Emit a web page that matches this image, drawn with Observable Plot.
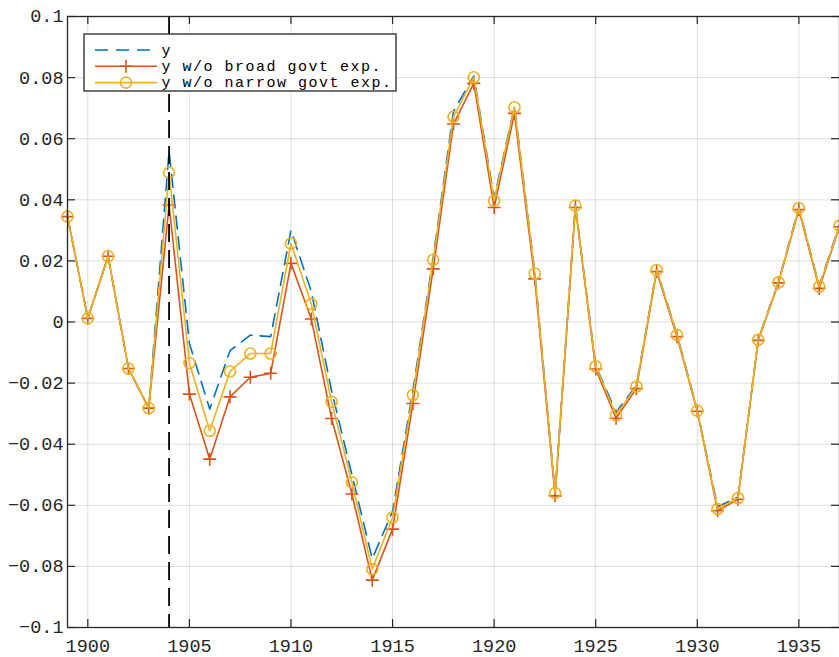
<!DOCTYPE html>
<html>
<head>
<meta charset="utf-8">
<script src="https://cdn.jsdelivr.net/npm/d3@7"></script>
<script src="https://cdn.jsdelivr.net/npm/@observablehq/plot@0.6"></script>
<style>
  html, body { margin: 0; padding: 0; background: #fff; }
  #chart { width: 839px; height: 657px; }
</style>
</head>
<body>
<div id="chart"></div>
<script>
const years = d3.range(1899, 1938);
const yBase = [0.0345, 0.0012, 0.0215, -0.0152, -0.0282, 0.0560, -0.0070, -0.0285, -0.0094, -0.0043,
  -0.0048, 0.0300, 0.0100, -0.0225, -0.0500, -0.0775, -0.0620, -0.0225, 0.0210, 0.0690,
  0.0805, 0.0405, 0.0705, 0.0162, -0.0558, 0.0383, -0.0143, -0.0295, -0.0208, 0.0172,
  -0.0040, -0.0288, -0.0605, -0.0573, -0.0057, 0.0132, 0.0375, 0.0118, 0.0318];
const yBroad = [0.0345, 0.0012, 0.0215, -0.0152, -0.0282, 0.0383, -0.0236, -0.0449, -0.0245, -0.0181,
  -0.0168, 0.0192, 0.0010, -0.0316, -0.0563, -0.0845, -0.0678, -0.0267, 0.0174, 0.0648,
  0.0781, 0.0375, 0.0683, 0.0141, -0.0569, 0.0375, -0.0154, -0.0315, -0.0218, 0.0165,
  -0.0048, -0.0292, -0.0618, -0.0580, -0.0060, 0.0128, 0.0368, 0.0110, 0.0312];
const yNarrow = [0.0345, 0.0012, 0.0215, -0.0152, -0.0282, 0.0489, -0.0134, -0.0356, -0.0162, -0.0103,
  -0.0103, 0.0257, 0.0059, -0.0261, -0.0525, -0.0809, -0.0640, -0.0239, 0.0204, 0.0672,
  0.0801, 0.0397, 0.0703, 0.0159, -0.0560, 0.0381, -0.0145, -0.0305, -0.0211, 0.0170,
  -0.0042, -0.0290, -0.0612, -0.0576, -0.0058, 0.0130, 0.0373, 0.0116, 0.0315];
const markerYear = [1904];
const xTicks = [1900, 1905, 1910, 1915, 1920, 1925, 1930, 1935];
const yTicks = [-0.1, -0.08, -0.06, -0.04, -0.02, 0, 0.02, 0.04, 0.06, 0.08, 0.1];
const seriesNames = ["y", "y w/o broad govt exp.", "y w/o narrow govt exp."];
const colors = ["#0072BD", "#D95319", "#EDB120"];

const base = years.map((x, i) => ({x, v: yBase[i]}));
const broad = years.map((x, i) => ({x, v: yBroad[i]}));
const narrow = years.map((x, i) => ({x, v: yNarrow[i]}));

const plusSymbol = {
  draw(ctx, size) {
    const r = Math.sqrt(size / Math.PI);
    ctx.moveTo(-r, 0); ctx.lineTo(r, 0);
    ctx.moveTo(0, -r); ctx.lineTo(0, r);
  }
};

const W = 839, H = 657, mL = 67, mT = 16, mB = 30, mR = 0;
const innerH = H - mT - mB, innerW = W - mL - mR;
const ink = "#262626";
const fmt = d => d === 0 ? "0" : d3.format("~g")(d);

const plot = Plot.plot({
  width: W, height: H,
  marginLeft: mL, marginRight: mR, marginTop: mT, marginBottom: mB,
  style: {fontFamily: "Liberation Mono, monospace", fontSize: "18.5px", background: "#fff", color: ink},
  x: {domain: [1899, 1937]},
  y: {domain: [-0.1, 0.1]},
  marks: [
    Plot.gridX(xTicks, {stroke: ink, strokeOpacity: 0.15, strokeWidth: 1}),
    Plot.gridY(yTicks, {stroke: ink, strokeOpacity: 0.15, strokeWidth: 1}),
    Plot.lineY(base, {x: "x", y: "v", stroke: colors[0], strokeWidth: 1.6, strokeDasharray: "13,8"}),
    Plot.lineY(broad, {x: "x", y: "v", stroke: colors[1], strokeWidth: 1.6}),
    Plot.dot(broad, {x: "x", y: "v", stroke: colors[1], strokeWidth: 1.6, symbol: plusSymbol, r: 6.5, fill: "none"}),
    Plot.lineY(narrow, {x: "x", y: "v", stroke: colors[2], strokeWidth: 1.6}),
    Plot.dot(narrow, {x: "x", y: "v", stroke: colors[2], strokeWidth: 1.6, r: 5.5, fill: "none"}),
    Plot.ruleX(markerYear, {stroke: "#000", strokeWidth: 1.8, strokeDasharray: "18,8"}),
    // inward ticks
    Plot.tickX(xTicks, {x: d => d, stroke: ink, strokeWidth: 1.2, insetTop: innerH - 8}),
    Plot.tickX(xTicks, {x: d => d, stroke: ink, strokeWidth: 1.2, insetBottom: innerH - 8}),
    Plot.tickY(yTicks, {y: d => d, stroke: ink, strokeWidth: 1.2, insetRight: innerW - 8}),
    Plot.tickY(yTicks, {y: d => d, stroke: ink, strokeWidth: 1.2, insetLeft: innerW - 8}),
    Plot.frame({stroke: ink, strokeWidth: 1.3}),
    Plot.axisX(xTicks, {anchor: "bottom", tickSize: 0, tickPadding: 11, label: null, fill: ink, tickFormat: d => String(d)}),
    Plot.axisY(yTicks, {anchor: "left", tickSize: 0, tickPadding: 4, label: null, fill: ink, tickFormat: fmt})
  ]
});

document.getElementById("chart").appendChild(plot);

// Legend (inside the axes, upper left)
const svg = d3.select(plot);
const lg = svg.append("g")
  .attr("font-family", "Liberation Mono, monospace")
  .attr("font-size", "15px")
  .attr("letter-spacing", "1.5px")
  .attr("text-anchor", "start");
lg.append("rect").attr("x", 84).attr("y", 34).attr("width", 312).attr("height", 57)
  .attr("fill", "#fff").attr("stroke", ink).attr("stroke-width", 1.3);
const rowY = [50, 66.3, 82.6];
seriesNames.forEach((name, i) => {
  const yy = rowY[i];
  const ln = lg.append("line").attr("x1", 95).attr("x2", 157).attr("y1", yy).attr("y2", yy)
    .attr("stroke", colors[i]).attr("stroke-width", 1.6);
  if (i === 0) ln.attr("stroke-dasharray", "13,8");
  if (i === 1) {
    lg.append("path").attr("d", `M${126 - 6.5},${yy}H${126 + 6.5}M126,${yy - 6.5}V${yy + 6.5}`)
      .attr("stroke", colors[i]).attr("stroke-width", 1.6).attr("fill", "none");
  }
  if (i === 2) {
    lg.append("circle").attr("cx", 126).attr("cy", yy).attr("r", 5.5)
      .attr("stroke", colors[i]).attr("stroke-width", 1.6).attr("fill", "none");
  }
  lg.append("text").attr("x", 161.5).attr("y", yy).attr("dy", "0.32em")
    .attr("text-anchor", "start").attr("fill", "#000").text(name);
});
</script>
</body>
</html>
